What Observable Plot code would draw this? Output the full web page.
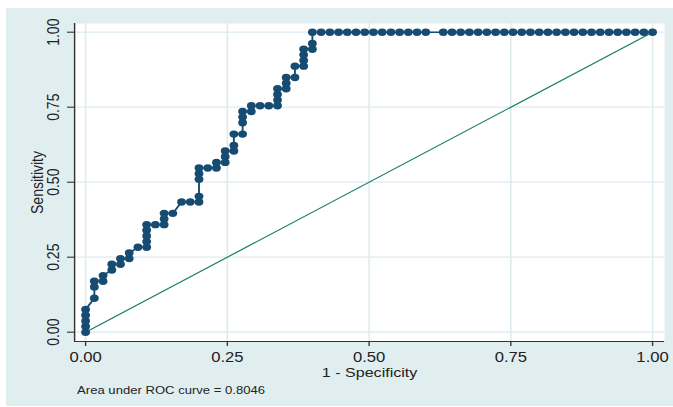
<!DOCTYPE html>
<html><head><meta charset="utf-8">
<script src="https://cdn.jsdelivr.net/npm/d3@7"></script>
<script src="https://cdn.jsdelivr.net/npm/@observablehq/plot@0.6"></script>
<style>
html,body{margin:0;padding:0;background:#fff;}
#wrap{position:relative;width:673px;height:407px;overflow:hidden;background:#fff;}
#chart{position:absolute;left:6px;top:8px;transform-origin:0 0;}
#chart svg{display:block;}
</style></head><body><div id="wrap"><div id="chart"></div></div>
<script>
// ROC points: 1 - specificity (x) and sensitivity (y)
const fpr = [
  0,0,0,0,0,
  .0154,.0154,.0154,
  .0308,.0308,
  .0462,.0462,
  .0615,.0615,
  .0769,.0769,
  .0923,
  .1077,.1077,.1077,.1077,.1077,
  .1231,
  .1385,.1385,.1385,
  .1538,
  .1692,
  .1846,
  .2,.2,.2,.2,.2,
  .2154,
  .2308,.2308,
  .2462,.2462,.2462,
  .2615,.2615,.2615,
  .2769,.2769,.2769,.2769,
  .2923,.2923,
  .3077,
  .3231,
  .3385,.3385,.3385,.3385,
  .3538,.3538,.3538,
  .3692,.3692,
  .3846,.3846,.3846,.3846,
  .4,.4,.4,
  .4154,.4308,.4462,.4615,.4769,.4923,.5077,.5231,.5385,.5538,.5692,.5846,.6,
  .6308,.6462,.6615,.6769,.6923,.7077,.7231,.7385,.7538,.7692,.7846,.8,
  .8154,.8308,.8462,.8615,.8769,.8923,.9077,.9231,.9385,.9538,.9692,.9846,1
];
const sens = [
  0,.0189,.0377,.0566,.0755,
  .1132,.1509,.1698,
  .1698,.1887,
  .2075,.2264,
  .2264,.2453,
  .2453,.2642,
  .283,
  .283,.3019,.3208,.3396,.3585,
  .3585,
  .3585,.3774,.3962,
  .3962,
  .434,
  .434,
  .434,.4528,.5094,.5283,.5472,
  .5472,
  .5472,.566,
  .566,.5849,.6038,
  .6038,.6226,.6604,
  .6604,.6981,.717,.7358,
  .7358,.7547,
  .7547,
  .7547,
  .7547,.7736,.7925,.8113,
  .8113,.8302,.8491,
  .8491,.8868,
  .8868,.9057,.9245,.9434,
  .9434,.9623,1,
  1,1,1,1,1,1,1,1,1,1,1,1,1,
  1,1,1,1,1,1,1,1,1,1,1,1,
  1,1,1,1,1,1,1,1,1,1,1,1,1
];
const refX = [0, 1];
const refY = [0, 1];
const xTicks = [0, 0.25, 0.5, 0.75, 1];
const yTicks = [0, 0.25, 0.5, 0.75, 1];
const tickLabels = ["0.00", "0.25", "0.50", "0.75", "1.00"];
const xTitle = "1 - Specificity";
const yTitle = "Sensitivity";
const note = "Area under ROC curve = 0.8046";

const points = fpr.map((x, i) => ({x, y: sens[i]}));
const refLine = refX.map((x, i) => ({x, y: refY[i]}));

// the reference image is stretched horizontally
const S = 1.19;
const W = 667 / S;
const H = 398;
const xDomain = [-11 / 567, 579 / 567];
const yDomain = [-9.3 / 300, 308.7 / 300];

const navy = "#174C72";
const teal = "#23826E";
const grid = "#DDEBEE";
const axisCol = "#333333";
const font = "'Liberation Sans', Arial, Helvetica, sans-serif";

const chart = Plot.plot({
  width: W,
  height: H,
  marginLeft: 68 / S,
  marginRight: 9 / S,
  marginTop: 15,
  marginBottom: 65,
  style: {background: "#E1EEF0", fontFamily: font, color: "#222", overflow: "visible"},
  x: {domain: xDomain},
  y: {domain: yDomain},
  marks: [
    Plot.frame({fill: "#ffffff", stroke: "none"}),
    Plot.gridX(xTicks, {stroke: grid, strokeOpacity: 1, strokeWidth: 1.3}),
    Plot.gridY(yTicks, {stroke: grid, strokeOpacity: 1, strokeWidth: 1.3}),
    Plot.ruleX([xDomain[0]], {stroke: axisCol, strokeWidth: 1.2}),
    Plot.ruleY([yDomain[0]], {stroke: axisCol, strokeWidth: 1.2}),
    Plot.axisX(xTicks, {tickSize: 5, fill: "none", stroke: axisCol, strokeWidth: 1.1}),
    Plot.axisY(yTicks, {tickSize: 5.9, fill: "none", stroke: axisCol, strokeWidth: 1.1}),
    Plot.text(xTicks, {x: d => d, text: (d, i) => tickLabels[i], frameAnchor: "bottom", dy: 16.3,
      lineAnchor: "middle", textAnchor: "middle", fontSize: 14, fill: "#222"}),
    Plot.text(yTicks, {y: d => d, text: (d, i) => tickLabels[i], frameAnchor: "left", dx: -17.2,
      rotate: -90, lineAnchor: "middle", textAnchor: "middle", fontSize: 14, fill: "#222"}),
    Plot.text([xTitle], {frameAnchor: "bottom", dy: 31.6, lineAnchor: "middle",
      textAnchor: "middle", fontSize: 13.5, fill: "#222"}),
    Plot.text([yTitle], {frameAnchor: "left", dx: -31.3, rotate: -90, lineAnchor: "middle",
      textAnchor: "middle", fontSize: 14, fill: "#222"}),
    Plot.text([note], {frameAnchor: "bottom-left", dx: 2.1, dy: 48.5, lineAnchor: "middle",
      textAnchor: "start", fontSize: 11, fill: "#222"}),
    Plot.line(refLine, {x: "x", y: "y", stroke: teal, strokeWidth: 1.2}),
    Plot.line(points, {x: "x", y: "y", stroke: navy, strokeWidth: 1.6}),
    Plot.dot(points, {x: "x", y: "y", r: 3.7, fill: navy, stroke: "none"})
  ]
});
document.getElementById("chart").style.transform = `scaleX(${S})`;
document.getElementById("chart").appendChild(chart);
</script>
</body></html>
